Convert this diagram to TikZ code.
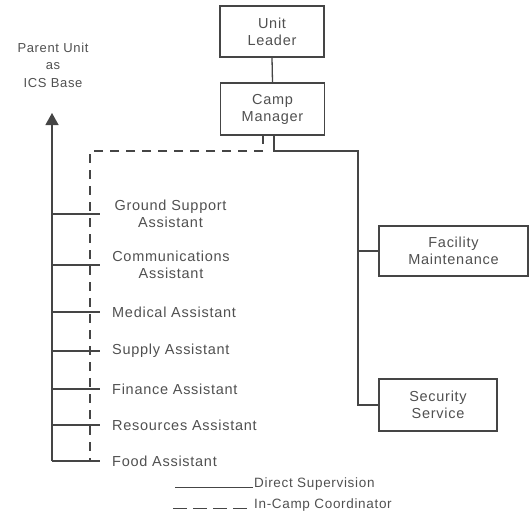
\documentclass[tikz,border=0pt]{standalone}
\usepackage{fontspec}
\setmainfont{Liberation Sans}[LetterSpace=5]
\usetikzlibrary{arrows.meta}
\definecolor{txt}{HTML}{505050}
\definecolor{ln}{HTML}{454545}
\tikzset{
  box/.style={draw=ln, line width=1.3pt, rectangle, align=center, text=txt,
    font=\fontsize{14.5}{17}\selectfont, inner sep=0pt},
  lbl/.style={text=txt, font=\fontsize{14.5}{17}\selectfont, inner sep=0pt},
  conn/.style={draw=ln, line width=1.3pt},
  dconn/.style={draw=ln, line width=1.3pt, dash pattern=on 9pt off 7pt},
}
\begin{document}
\begin{tikzpicture}[x=1pt,y=-1pt]
\useasboundingbox (0,0) rectangle (529,514);
% boxes
\node[box, minimum width=104pt, minimum height=51pt] (ul) at (272,31.5) {Unit\\Leader};
\node[box, minimum width=104pt, minimum height=52pt] (cm) at (272.5,109) {Camp\\Manager};
\node[box, minimum width=149pt, minimum height=50pt] (fm) at (453.5,251) {Facility\\Maintenance};
\node[box, minimum width=118pt, minimum height=52pt] (ss) at (438,405) {Security\\Service};
% parent unit label
\node[lbl, align=center, font=\fontsize{13}{17.5}\selectfont] (pu) at (53,65) {Parent Unit\\as\\ICS Base};
% connectors from manager
\draw[conn] (ul.south) -- (cm.north);
\coordinate (sd) at (274,135);
\coordinate (sc) at (274,151);
\coordinate (sr) at (358,151);
\coordinate (sfm) at (358,251);
\coordinate (sss) at (358,405);
\draw[conn] (sd) -- (sc) -- (sr) -- (sss) -- (ss.west);
\draw[conn] (sfm) -- (fm.west);
% in-camp dashed
\coordinate (dd) at (263,135);
\coordinate (dc) at (263,151);
\coordinate (dl) at (90,151);
\coordinate (db) at (90,461);
\draw[dconn] (dd) -- (dc) -- (dl) -- (db);
% arrow to parent
\coordinate (at) at (52,113);
\coordinate (ab) at (52,461);
\draw[conn, -{Triangle[length=12pt,width=13pt]}] (ab) -- (at);
% assistants
\foreach \n/\y in {1/214,2/265,3/312,4/351,5/389,6/425,7/461}{
  \coordinate (l\n) at (52,\y);
  \coordinate (r\n) at (100,\y);
  \draw[conn] (l\n) -- (r\n);
}
\node[lbl, align=center] (a1) at (170.5,214) {Ground Support\\Assistant};
\node[lbl, align=center] (a2) at (171,265) {Communications\\Assistant};
\node[lbl, anchor=west] (a3) at (112,312) {Medical Assistant};
\node[lbl, anchor=west] (a4) at (112,351) {Supply Assistant};
\node[lbl, anchor=west] (a5) at (112,389) {Finance Assistant};
\node[lbl, anchor=west] (a6) at (112,425) {Resources Assistant};
\node[lbl, anchor=west] (a7) at (112,461) {Food Assistant};
% legend
\coordinate (ls1) at (175,487);
\coordinate (ls2) at (253,487);
\coordinate (ld1) at (173,508);
\coordinate (ld2) at (253,508);
\draw[draw=ln, line width=1pt] (ls1) -- (ls2);
\draw[draw=ln, line width=1pt, dash pattern=on 14pt off 6pt] (ld1) -- (ld2);
\node[lbl, anchor=base west, font=\fontsize{13.5}{16}\selectfont] (t1) at (254,487) {Direct Supervision};
\node[lbl, anchor=base west, font=\fontsize{13.5}{16}\selectfont] (t2) at (254,508) {In-Camp Coordinator};
\end{tikzpicture}
\end{document}
